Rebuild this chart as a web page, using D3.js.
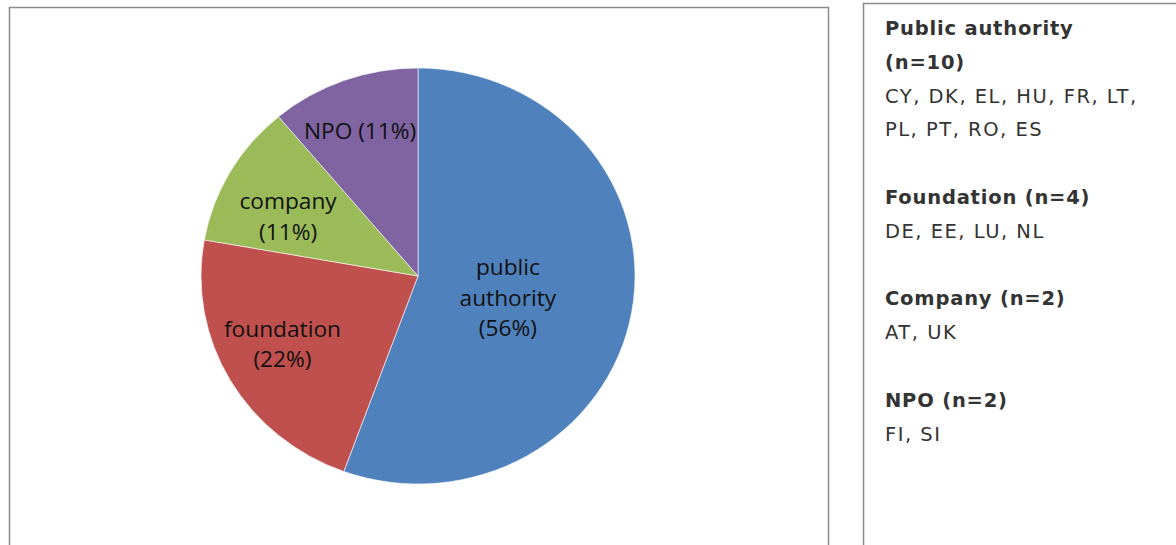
<!DOCTYPE html>
<html><head><meta charset="utf-8">
<script src="https://cdn.jsdelivr.net/npm/d3@7"></script>
<style>
html,body{margin:0;padding:0;background:#fff;overflow:hidden;}
svg{display:block;}
</style></head>
<body>
<svg id="chart" width="1176" height="545"></svg>
<script>
// ---- data ----
const categories = ["public authority", "foundation", "company", "NPO"];
const counts = [10, 4, 2, 2];
const percentLabels = ["56%", "22%", "11%", "11%"];
const colors = ["#4F81BD", "#C0504D", "#9BBB59", "#8064A2"];
const legendTitles = ["Public authority (n=10)", "Foundation (n=4)", "Company (n=2)", "NPO (n=2)"];
const legendCountries = ["CY, DK, EL, HU, FR, LT, PL, PT, RO, ES", "DE, EE, LU, NL", "AT, UK", "FI, SI"];

// ---- layout ----
const svg = d3.select("#chart");
const cx = 418, cy = 276, rx = 217, ry = 208;
const labelR = [0.43, 0.70, 0.67, 0.74];
const labelShift = [[-2, 6], [-4, -5], [-4, 10], [-3, 0]];
const labelLines = [["public", "authority", "(56%)"], ["foundation", "(22%)"], ["company", "(11%)"], ["NPO (11%)"]];

// frames
svg.append("rect").attr("x", 9.5).attr("y", 7.5).attr("width", 819).attr("height", 560)
  .attr("fill", "#fff").attr("stroke", "#8c8c8c").attr("stroke-width", 1.5);
svg.append("rect").attr("x", 863.5).attr("y", 3.5).attr("width", 340).attr("height", 560)
  .attr("fill", "#fff").attr("stroke", "#8c8c8c").attr("stroke-width", 1.5);

const pie = d3.pie().sort(null).value(d => d);
const arcs = pie(counts);
const arc = d3.arc().innerRadius(0).outerRadius(rx);

const g = svg.append("g").attr("transform", `translate(${cx},${cy}) scale(1,${ry/rx})`);
g.selectAll("path").data(arcs).join("path")
  .attr("d", arc)
  .attr("fill", (d, i) => colors[i])
  .attr("stroke", "#fff").attr("stroke-width", 0.6);

const lg = svg.append("g").attr("transform", `translate(${cx},${cy})`);
arcs.forEach((a, i) => {
  const mid = (a.startAngle + a.endAngle) / 2;
  const r = labelR[i] * rx;
  const x = Math.sin(mid) * r + labelShift[i][0];
  const y = -Math.cos(mid) * r * (ry / rx) + labelShift[i][1];
  const lines = labelLines[i];
  const lh = 30.5;
  const t = lg.append("text")
    .attr("text-anchor", "middle")
    .attr("font-family", "'Open Sans', sans-serif")
    .attr("font-size", 22.7)
    .attr("fill", "#111");
  lines.forEach((ln, j) => {
    t.append("tspan").attr("x", x)
      .attr("y", y + (j - (lines.length - 1) / 2) * lh + 8)
      .text(ln);
  });
});

// legend panel text
const leg = svg.append("g").attr("font-family", "'DejaVu Sans', Verdana, sans-serif").attr("font-size", 19.5);
const lx = 885, lineH = 33.8;
const titleSplit = [["Public authority", "(n=10)"], [legendTitles[1]], [legendTitles[2]], [legendTitles[3]]];
const countrySplit = [["CY, DK, EL, HU, FR, LT,", "PL, PT, RO, ES"], [legendCountries[1]], [legendCountries[2]], [legendCountries[3]]];
let yy = 35;
titleSplit.forEach((tl, i) => {
  tl.forEach(s => {
    leg.append("text").attr("x", lx).attr("y", yy).attr("font-weight", "bold")
      .attr("letter-spacing", 0.8).attr("fill", "#333").text(s);
    yy += lineH;
  });
  countrySplit[i].forEach(s => {
    leg.append("text").attr("x", lx).attr("y", yy).attr("letter-spacing", 1.5)
      .attr("fill", "#333").text(s);
    yy += lineH;
  });
  yy += lineH;
});
</script>
</body></html>
